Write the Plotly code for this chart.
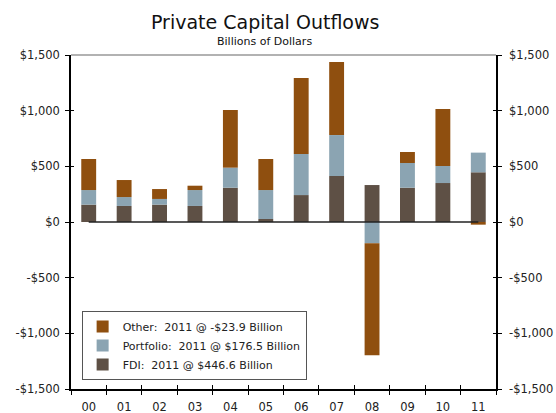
import plotly.graph_objects as go

years = ["00", "01", "02", "03", "04", "05", "06", "07", "08", "09", "10", "11"]
fdi = [156, 144, 156, 144, 308, 27, 242, 413, 332, 308, 350, 446.6]
portfolio = [131, 80, 51, 143, 180, 260, 369, 368, -191, 222, 153, 176.5]
other = [279, 153, 89, 39, 518, 279, 682, 656, -1006, 99, 512, -23.9]

series_names = ["FDI:  2011 @ $446.6 Billion",
                "Portfolio:  2011 @ $176.5 Billion",
                "Other:  2011 @ -$23.9 Billion"]
series_colors = ["#5E5045", "#8BA4B2", "#8F4F0F"]

ytick_vals = [1500, 1000, 500, 0, -500, -1000, -1500]
ytick_text = ["$1,500", "$1,000", "$500", "$0", "-$500", "-$1,000", "-$1,500"]
xtick_bounds = [i - 0.5 for i in range(13)]

FONT = "DejaVu Sans"
TICK = 11.5

fig = go.Figure()
for vals, name, col in zip([fdi, portfolio, other], series_names, series_colors):
    fig.add_trace(go.Bar(x=years, y=vals, name=name, marker_color=col,
                         marker_line_width=0))

# invisible helper trace so the secondary (tick-crossing / right-label) axes render
fig.add_trace(go.Scatter(x=list(range(len(years))), y=fdi, xaxis="x2", yaxis="y2",
                         mode="markers", marker=dict(opacity=0, size=1),
                         showlegend=False, hoverinfo="skip"))

fig.update_layout(
    width=556, height=413,
    margin=dict(l=71, r=60, t=55, b=24, autoexpand=False),
    paper_bgcolor="white", plot_bgcolor="white",
    barmode="relative", bargap=0.58,
    font=dict(family=FONT, size=TICK, color="#222"),
    showlegend=True,
    legend=dict(traceorder="reversed", x=0.025, y=0.027, xanchor="left",
                yanchor="bottom", bgcolor="white", bordercolor="#555",
                borderwidth=1, font=dict(size=11, color="#222"),
                itemwidth=30, tracegroupgap=0),
    xaxis=dict(type="category", categoryorder="array", categoryarray=years,
               range=[-0.5, 11.5], tickson="boundaries", ticks="outside",
               ticklen=4, tickcolor="#000", showline=True, linecolor="#000",
               linewidth=1.5, showgrid=False, zeroline=False, automargin=False,
               tickfont=dict(size=TICK), ticklabelstandoff=6),
    xaxis2=dict(overlaying="x", anchor="y", side="bottom", range=[-0.5, 11.5],
                tickmode="array", tickvals=xtick_bounds, ticks="inside",
                ticklen=4, tickcolor="#000", showticklabels=False,
                automargin=False,
                showline=False, showgrid=False, zeroline=False),
    yaxis=dict(range=[-1500, 1500], tickmode="array", tickvals=ytick_vals,
               ticktext=ytick_text, ticks="outside", ticklen=4,
               tickcolor="#000", mirror="ticks", showline=True,
               linecolor="#000", linewidth=1.5, showgrid=False,
               zeroline=False, automargin=False, tickfont=dict(size=TICK),
               ticklabelstandoff=3),
    yaxis2=dict(overlaying="y", side="right", anchor="x2", range=[-1500, 1500],
                tickmode="array", tickvals=ytick_vals, ticktext=ytick_text,
                ticks="inside", ticklen=3, tickcolor="#000", mirror="ticks",
                showline=True, linecolor="#000", linewidth=1.5,
                automargin=False, ticklabelstandoff=9,
                showgrid=False, zeroline=False, tickfont=dict(size=TICK)),
    shapes=[
        dict(type="line", xref="paper", yref="paper", x0=0, x1=1, y0=1, y1=1,
             line=dict(color="#999", width=1.5)),
        dict(type="line", xref="x", yref="y", x0=years[0], x1=years[-1],
             y0=0, y1=0, line=dict(color="#222", width=1.5), layer="above"),
    ],
    annotations=[
        dict(text="Private Capital Outflows", xref="paper", yref="paper",
             x=0.456, y=1.099, xanchor="center", yanchor="middle",
             showarrow=False, font=dict(size=19, color="#111")),
        dict(text="Billions of Dollars", xref="paper", yref="paper",
             x=0.456, y=1.039, xanchor="center", yanchor="middle",
             showarrow=False, font=dict(size=11, color="#111")),
    ],
)

fig.write_html("out.html", config={"displayModeBar": False},
               post_script="document.body.style.margin='0px';")
